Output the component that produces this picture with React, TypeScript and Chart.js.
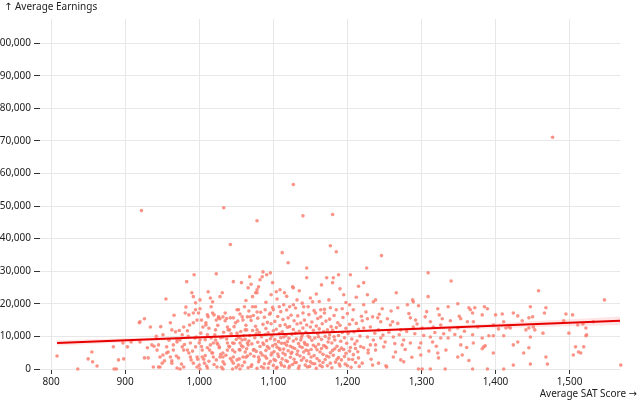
import { useEffect, useRef } from "react";
import { Chart, registerables } from "chart.js";

Chart.register(...registerables);

// Axis ticks
const X_TICKS = [800, 900, 1000, 1100, 1200, 1300, 1400, 1500];
const Y_TICKS = [0, 10000, 20000, 30000, 40000, 50000, 60000, 70000, 80000, 90000, 100000];
const X_TITLE = "Average SAT Score →";
const Y_TITLE = "↑ Average Earnings";

// Regression line and its confidence band
const REG_SAT = [808, 1569];
const REG_EARN = [8000, 14800];
const BAND_SAT = [808, 900, 1000, 1100, 1200, 1300, 1400, 1500, 1569];
const BAND_LOW = [7150, 8220, 9340, 10330, 11170, 11900, 12540, 13130, 13500];
const BAND_HIGH = [8850, 9420, 10100, 10890, 11830, 12900, 14040, 15230, 16100];

// Scatter points: [SAT score, earnings in thousands]
const outlierPts = [
  [1477, 71.1], [1127, 56.6], [922, 48.6], [1033, 49.5], [1078, 45.5], [1140, 47.0], [1180, 47.4],
  [1042, 38.2], [1177, 37.8], [1185, 36.0], [1112, 35.7], [1246, 34.8], [1120, 32.6], [1226, 31.0],
  [1145, 31.0], [1340, 27.0], [1458, 24.0], [1547, 21.2], [1309, 29.5], [993, 28.9], [1023, 29.2],
];

const leftPts = [
  [808, 4.0], [836, 0], [850, 3.1], [855, 5.2], [856, 2.2], [862, 0.9], [884, 6.8], [885, 0], [888, 0],
  [891, 2.8], [898, 3.1], [897, 8.0], [903, 6.8], [908, 8.3], [919, 14.2], [920, 14.5], [926, 15.4],
  [926, 3.4], [931, 3.4], [934, 12.9], [939, 7.0], [943, 5.8], [945, 0.6], [947, 3.7], [951, 10.5],
  [955, 21.5], [956, 6.8], [958, 5.2], [961, 14.2], [963, 1.8], [965, 5.8], [968, 11.4], [970, 8.9],
  [972, 3.4], [974, 0], [977, 10.5], [979, 12.9], [981, 17.2], [983, 26.8], [984, 5.8], [986, 16.6],
  [988, 8.0], [989, 2.8], [990, 23.4], [992, 22.2], [992, 14.2], [995, 20.3], [996, 9.8], [997, 3.7],
  [997, 0.6], [999, 17.2], [1000, 8.0], [1001, 21.2],
  [963, 12.0], [984, 11.7], [992, 17.2], [995, 18.2], [920, 8.3], [930, 6.5], [936, 7.4], [945, 7.4],
  [951, 4.3], [956, 4.9], [950, 1.8], [965, 7.4], [970, 8.3], [961, 3.7], [963, 2.5], [974, 8.9],
  [977, 6.8], [979, 5.8], [986, 4.9], [988, 3.7], [995, 6.8], [992, 1.8], [938, 0.6], [947, 0.6],
  [970, 0.3], [979, 0.6], [942, 10.0], [948, 13.0], [953, 2.5], [959, 8.8], [966, 16.5], [969, 4.0],
  [973, 11.8], [976, 1.5], [980, 7.5], [982, 19.0], [985, 10.0], [987, 13.5], [991, 5.5], [994, 9.5],
  [997, 15.0], [998, 3.0],
];

const band1000Pts = [
  [1004, 5.8], [1005, 12.9], [1007, 1.8], [1009, 14.2], [1011, 10.5], [1012, 23.7], [1014, 5.8],
  [1015, 21.8], [1016, 19.1], [1018, 17.2], [1019, 8.0], [1019, 3.7], [1022, 12.0], [1024, 0.6],
  [1026, 15.7], [1027, 6.8], [1028, 22.2], [1031, 23.4], [1032, 9.8], [1032, 3.7], [1035, 17.2],
  [1038, 5.8], [1039, 12.0], [1042, 15.7], [1045, 8.0], [1046, 26.8], [1046, 1.8], [1049, 14.2],
  [1051, 18.2], [1053, 9.8], [1055, 5.8], [1057, 26.5], [1058, 16.0], [1059, 3.7], [1061, 19.1],
  [1062, 12.0], [1065, 8.0], [1066, 24.9], [1068, 28.3], [1069, 16.0], [1072, 22.2], [1073, 5.8],
  [1076, 19.1], [1078, 12.0], [1078, 23.4], [1080, 3.7],
  [1001, 18.5], [1009, 13.5], [1011, 16.6], [1012, 16.0], [1018, 20.6], [1020, 16.6], [1023, 15.0],
  [1026, 16.0], [1028, 15.4], [1032, 16.0], [1035, 14.8], [1038, 12.9], [1041, 12.0], [1046, 15.7],
  [1053, 18.2], [1055, 16.9], [1059, 15.0], [1065, 16.0], [1001, 8.9], [1004, 3.7], [1000, 1.2],
  [1011, 6.5], [1015, 7.4], [1018, 4.9], [1022, 8.9], [1024, 8.0], [1027, 6.5], [1028, 3.7],
  [1032, 4.9], [1032, 2.2], [1038, 8.0], [1041, 6.8], [1045, 5.8], [1046, 3.7], [1051, 2.8],
  [1053, 1.2], [1055, 8.0], [1059, 6.8], [1062, 5.2], [1065, 4.0], [1066, 7.4], [1001, 0],
  [1011, 0.3], [1032, 0], [1045, 0], [1055, 0], [1051, 11.0], [1055, 9.5], [1064, 12.0],
  [1002, 11.0], [1003, 15.0], [1006, 3.0], [1008, 9.0], [1010, 0.9], [1013, 12.5], [1017, 5.0],
  [1021, 10.5], [1023, 2.8], [1025, 13.4], [1029, 9.6], [1030, 0.5], [1033, 11.3], [1036, 4.2],
  [1037, 15.5], [1040, 7.0], [1043, 10.8], [1044, 2.5], [1047, 13.0], [1048, 5.2], [1050, 9.1],
  [1052, 14.7], [1054, 3.1], [1056, 11.5], [1057, 7.1], [1060, 10.2],
];

const upperCorePts = [
  [1086, 29.8], [1091, 28.9], [1085, 28.3], [1082, 27.4], [1080, 25.2], [1078, 24.3], [1076, 23.4],
  [1096, 29.5], [1099, 26.5], [1097, 22.8], [1104, 23.7], [1109, 24.3], [1115, 23.4], [1126, 25.2],
  [1127, 24.9], [1145, 28.0], [1165, 25.8], [1172, 28.0], [1180, 26.5], [1181, 28.0], [1188, 28.9],
  [1195, 22.8], [1204, 28.9], [1150, 21.8], [1153, 20.6], [1147, 19.1], [1132, 21.2], [1072, 19.1],
  [1078, 17.5], [1089, 18.2], [1096, 17.2], [1100, 18.2], [1108, 19.1], [1114, 19.7], [1122, 19.1],
  [1127, 19.7], [1141, 19.1], [1157, 17.2], [1164, 18.2], [1169, 17.2], [1177, 18.8], [1185, 18.2],
  [1193, 18.5], [1203, 19.7], [1208, 18.2],
  [1063, 21.0], [1070, 26.0], [1090, 20.5], [1105, 21.5], [1118, 22.3], [1135, 24.0], [1139, 20.2],
  [1158, 23.0], [1162, 20.7], [1175, 21.2], [1190, 24.6], [1198, 20.4], [1212, 22.0], [1215, 25.4],
];

const corePts = [
  [1061, 2.1], [1062, 9.1], [1063, 13.4], [1064, 6.2], [1066, 0.4], [1067, 17.8], [1068, 10.3],
  [1069, 4.6], [1070, 14.9], [1071, 7.7], [1071, 1.3], [1072, 11.8], [1073, 16.4], [1074, 3.9],
  [1075, 9.6], [1076, 13.1], [1077, 5.4], [1078, 0.2], [1079, 8.2], [1079, 15.6], [1081, 2.9],
  [1081, 11.2], [1082, 6.9], [1083, 17.4], [1084, 9.9], [1084, 0.7], [1085, 4.3], [1086, 13.7],
  [1087, 7.5], [1088, 1.6], [1088, 15.9], [1089, 10.6], [1090, 5.7], [1090, 12.4], [1091, 3.3],
  [1091, 8.7], [1092, 14.3], [1093, 0.3], [1093, 11.1], [1094, 6.4], [1095, 16.8], [1096, 2.4],
  [1096, 9.3], [1097, 13.9], [1098, 4.9], [1099, 7.1], [1099, 18.9], [1100, 11.7], [1100, 1.1],
  [1101, 5.3], [1102, 14.6], [1102, 9.0], [1103, 2.6], [1104, 12.2], [1105, 6.7], [1105, 0.5],
  [1106, 16.1], [1107, 8.4], [1107, 3.8], [1108, 10.9], [1109, 13.3], [1109, 5.9], [1110, 1.9],
  [1110, 17.6], [1111, 7.9], [1112, 11.4], [1112, 3.1], [1113, 15.2], [1114, 6.1], [1114, 9.8],
  [1115, 0.8], [1116, 13.6], [1116, 4.4], [1117, 10.2], [1118, 7.3], [1118, 18.1], [1119, 2.3],
  [1119, 12.8], [1120, 5.6], [1120, 15.7], [1121, 9.4], [1121, 0.4], [1122, 13.0], [1123, 3.6],
  [1123, 7.0], [1124, 16.5], [1125, 10.7], [1125, 5.1], [1126, 1.4], [1127, 12.1], [1127, 8.6],
  [1128, 14.8], [1128, 3.0], [1129, 6.3], [1130, 11.0], [1130, 18.7], [1131, 2.0], [1131, 9.2],
  [1132, 13.8], [1133, 5.5], [1133, 16.3], [1134, 7.8], [1135, 0.9], [1135, 11.6], [1136, 4.0],
  [1137, 14.1], [1137, 8.9], [1138, 2.7], [1139, 10.4], [1139, 6.6], [1140, 17.2], [1140, 12.6],
  [1141, 3.4], [1142, 8.1], [1142, 15.0], [1143, 1.2], [1144, 11.3], [1144, 5.8], [1145, 13.5],
  [1146, 7.4], [1146, 0.6], [1147, 10.1], [1148, 4.7], [1148, 16.7], [1149, 9.7], [1150, 2.2],
  [1150, 12.9], [1151, 6.0], [1152, 14.4], [1152, 8.8], [1153, 1.7], [1154, 11.9], [1155, 4.1],
  [1155, 17.9], [1156, 9.5], [1157, 6.8], [1158, 13.2], [1158, 0.2], [1159, 3.2], [1160, 10.8],
  [1160, 15.5], [1161, 7.6], [1162, 2.5], [1162, 12.3], [1163, 5.2], [1164, 16.0], [1165, 9.1],
  [1166, 0.7], [1166, 13.9], [1167, 4.5], [1168, 11.5], [1168, 7.2], [1169, 18.3], [1170, 2.9],
  [1170, 10.0], [1171, 14.7], [1172, 6.5], [1173, 1.0], [1173, 12.0], [1174, 8.3], [1175, 3.7],
  [1176, 15.3], [1176, 10.5], [1177, 5.0], [1178, 13.0], [1179, 0.4], [1179, 8.0], [1180, 11.9],
  [1181, 4.2], [1182, 16.4], [1182, 9.9], [1183, 6.2], [1184, 2.1], [1185, 12.7], [1186, 7.0],
  [1187, 14.2], [1188, 3.5], [1188, 10.3], [1189, 5.7], [1190, 0.9], [1190, 13.4], [1191, 8.5],
  [1192, 2.8], [1193, 11.2], [1194, 15.8], [1195, 6.0], [1196, 9.6], [1197, 1.5], [1198, 12.5],
  [1198, 4.8], [1199, 7.9], [1200, 17.0], [1201, 10.9], [1202, 3.0], [1203, 13.7], [1204, 6.6],
  [1205, 0.5], [1206, 9.2], [1207, 15.1], [1208, 4.4], [1209, 11.4], [1210, 7.7], [1211, 2.0],
  [1212, 14.0], [1213, 8.6], [1214, 5.3], [1215, 12.2], [1216, 0.8], [1217, 10.1], [1218, 6.9],
  [1219, 16.2],
];

const lowerCorePts = [
  [1058, 1.0], [1063, 3.6], [1067, 8.6], [1070, 0.8], [1074, 6.0], [1077, 10.8], [1080, 2.2],
  [1083, 5.0], [1086, 8.0], [1087, 0.3], [1089, 3.9], [1092, 6.9], [1094, 1.7], [1097, 4.3],
  [1098, 10.1], [1101, 2.9], [1103, 7.6], [1104, 0.2], [1106, 4.6], [1108, 6.3], [1110, 9.6],
  [1111, 1.2], [1113, 4.9], [1115, 7.9], [1117, 2.6], [1119, 8.4], [1122, 0.9], [1124, 4.8],
  [1126, 6.6], [1129, 2.0], [1132, 4.5], [1134, 0.2], [1136, 6.9], [1138, 9.7], [1141, 5.2],
  [1143, 7.6], [1145, 2.5], [1147, 5.6], [1149, 0.8], [1151, 3.7], [1154, 7.3], [1156, 1.6],
  [1159, 5.9], [1161, 9.9], [1163, 1.1], [1165, 6.3], [1167, 2.0], [1170, 7.0], [1172, 4.0],
  [1175, 9.4], [1177, 1.8], [1180, 5.7], [1183, 8.9], [1186, 3.0], [1189, 1.5], [1192, 6.4],
  [1196, 3.8], [1200, 1.0], [1203, 5.5], [1207, 2.9], [1211, 6.3], [1215, 3.4],
  [1003, 6.9], [1008, 4.1], [1013, 2.4], [1016, 9.5], [1020, 1.4], [1025, 7.6], [1029, 4.5],
  [1034, 1.5], [1037, 9.2], [1042, 3.2], [1047, 7.9], [1050, 0.5], [1054, 6.0], [1058, 8.9],
];

const midPts = [
  [1222, 26.5], [1227, 22.8], [1266, 23.4], [1309, 22.2], [1238, 21.2], [1235, 20.6], [1288, 21.2],
  [1289, 20.6], [1222, 19.7], [1247, 18.5], [1268, 18.8], [1281, 19.7], [1296, 19.4], [1322, 18.5],
  [1336, 19.1], [1349, 20.0], [1364, 18.8], [1220, 14.8], [1227, 15.4], [1234, 16.0], [1241, 15.7],
  [1245, 14.5], [1254, 15.4], [1261, 14.5], [1285, 15.7], [1292, 15.0], [1305, 16.0], [1312, 14.5],
  [1328, 15.4], [1339, 14.8], [1353, 15.4], [1362, 14.5], [1222, 12.6], [1231, 12.9], [1242, 12.0],
  [1258, 13.5], [1272, 12.0], [1289, 12.9], [1301, 12.6], [1316, 12.9], [1326, 13.5], [1349, 12.6],
  [1227, 9.8], [1235, 8.9], [1238, 7.4], [1228, 5.8], [1245, 9.5], [1251, 8.3], [1262, 9.8],
  [1276, 8.9], [1274, 7.4], [1285, 8.0], [1299, 8.0], [1312, 9.8], [1315, 8.3], [1326, 9.5],
  [1336, 9.5], [1353, 9.8], [1222, 6.5], [1228, 4.9], [1231, 7.4], [1238, 5.8], [1249, 6.8],
  [1262, 3.7], [1265, 5.2], [1272, 2.8], [1276, 2.2], [1299, 4.3], [1322, 4.9], [1323, 3.4],
  [1349, 3.7], [1355, 4.3], [1353, 7.4], [1220, 1.8], [1234, 1.2], [1242, 1.8], [1253, 0.6],
  [1296, 0], [1301, 0], [1312, 0], [1332, 0],
  [1225, 17.5], [1232, 3.0], [1237, 11.0], [1243, 16.8], [1248, 10.4], [1252, 1.0], [1256, 11.3],
  [1259, 17.8], [1264, 7.8], [1268, 14.0], [1270, 10.5], [1278, 6.0], [1280, 11.5], [1283, 17.0],
  [1287, 3.6], [1291, 10.8], [1294, 13.8], [1297, 6.5], [1303, 10.3], [1307, 17.6], [1310, 5.5],
  [1318, 11.2], [1320, 7.0], [1324, 16.6], [1330, 10.8], [1333, 5.8], [1338, 12.0], [1345, 10.6],
  [1351, 16.2], [1358, 11.6], [1361, 6.6], [1364, 2.6],
];

const rightPts = [
  [1366, 18.2], [1372, 18.8], [1369, 17.2], [1385, 19.1], [1389, 18.5], [1382, 16.6], [1400, 16.6],
  [1409, 16.9], [1424, 17.2], [1430, 16.3], [1436, 14.8], [1447, 19.1], [1450, 16.0], [1445, 15.7],
  [1468, 18.8], [1466, 17.2], [1495, 16.9], [1504, 16.6], [1492, 14.8], [1370, 14.5], [1376, 12.9],
  [1397, 13.5], [1404, 12.3], [1411, 14.5], [1414, 12.6], [1420, 12.6], [1418, 12.9], [1441, 12.0],
  [1445, 12.6], [1451, 12.9], [1453, 12.0], [1464, 11.0], [1499, 11.0], [1511, 13.5], [1518, 13.8],
  [1522, 12.6], [1532, 14.5], [1369, 10.5], [1370, 8.0], [1382, 9.5], [1391, 10.2], [1397, 10.2],
  [1411, 10.2], [1424, 7.4], [1430, 8.3], [1447, 9.8], [1445, 6.5], [1438, 4.9], [1468, 3.7],
  [1470, 1.5], [1447, 1.5], [1522, 10.2], [1508, 6.8], [1505, 4.3], [1515, 4.9], [1519, 6.8],
  [1523, 10.5], [1512, 5.2], [1384, 6.8], [1386, 7.1], [1382, 6.2], [1397, 4.9], [1369, 0],
  [1389, 0], [1411, 0], [1424, 1.2], [1569, 1.2],
];

const ALL_POINTS = [
  ...outlierPts, ...leftPts, ...band1000Pts, ...upperCorePts, ...corePts, ...lowerCorePts,
  ...midPts, ...rightPts,
];

const fmt = (v: number) => v.toLocaleString("en-US");
const FONT = "'Noto Sans', 'DejaVu Sans', sans-serif";

const titlePlugin = {
  id: "axisTitles",
  afterDraw(chart: any) {
    const ctx = chart.ctx;
    ctx.save();
    ctx.font = `10px ${FONT}`;
    ctx.fillStyle = "#222";
    ctx.textBaseline = "alphabetic";
    ctx.textAlign = "left";
    ctx.fillText(Y_TITLE, 4, 10);
    ctx.textAlign = "right";
    ctx.fillText(X_TITLE, 637, 397);
    ctx.restore();
  },
};

export default function App() {
  const ref = useRef<HTMLCanvasElement | null>(null);

  useEffect(() => {
    document.body.style.margin = "0";
    const canvas = ref.current;
    if (!canvas) return;
    const chart = new Chart(canvas, {
      type: "scatter",
      data: {
        datasets: [
          {
            data: BAND_SAT.map((x, i) => ({ x, y: BAND_LOW[i] })),
            showLine: true,
            borderWidth: 0,
            pointRadius: 0,
            borderColor: "rgba(0,0,0,0)",
            fill: false,
            order: 3,
          },
          {
            data: BAND_SAT.map((x, i) => ({ x, y: BAND_HIGH[i] })),
            showLine: true,
            borderWidth: 0,
            pointRadius: 0,
            borderColor: "rgba(0,0,0,0)",
            backgroundColor: "rgba(255,0,0,0.1)",
            fill: "-1",
            order: 2,
          },
          {
            data: ALL_POINTS.map(([x, y]) => ({ x, y: y * 1000 })),
            pointRadius: 1.8,
            pointBorderWidth: 0,
            pointBackgroundColor: "rgba(250,128,114,0.85)",
            order: 1,
            clip: 4,
          },
          {
            data: REG_SAT.map((x, i) => ({ x, y: REG_EARN[i] })),
            showLine: true,
            borderColor: "#e60000",
            borderWidth: 2,
            pointRadius: 0,
            order: 0,
          },
        ],
      } as any,
      options: {
        responsive: false,
        animation: false,
        devicePixelRatio: 1,
        events: [],
        layout: { padding: { left: 0, right: 20, top: 19, bottom: 0 } },
        plugins: { legend: { display: false }, tooltip: { enabled: false } },
        scales: {
          x: {
            type: "linear",
            min: 785,
            max: 1568,
            afterBuildTicks: (s: any) => {
              s.ticks = X_TICKS.map((v) => ({ value: v }));
            },
            afterFit: (s: any) => {
              s.height = 31;
            },
            grid: {
              color: "#e8e8e8",
              lineWidth: 1,
              tickLength: 5,
              tickColor: "#333",
              tickWidth: 1,
            },
            border: { display: false },
            ticks: {
              callback: (v: any) => fmt(Number(v)),
              font: { family: FONT, size: 10 },
              color: "#222",
              padding: 2,
              maxRotation: 0,
              autoSkip: false,
            },
          },
          y: {
            type: "linear",
            min: 0,
            max: 107400,
            afterBuildTicks: (s: any) => {
              s.ticks = Y_TICKS.map((v) => ({ value: v }));
            },
            afterFit: (s: any) => {
              s.width = 40;
            },
            grid: {
              color: "#e8e8e8",
              lineWidth: 1,
              tickLength: 6,
              tickColor: "#333",
              tickWidth: 1,
            },
            border: { display: false },
            ticks: {
              callback: (v: any) => fmt(Number(v)),
              font: { family: FONT, size: 10 },
              color: "#222",
              padding: 3,
              autoSkip: false,
            },
          },
        },
      },
      plugins: [titlePlugin],
    });
    return () => chart.destroy();
  }, []);

  return <canvas ref={ref} width={640} height={400} style={{ display: "block" }} />;
}
